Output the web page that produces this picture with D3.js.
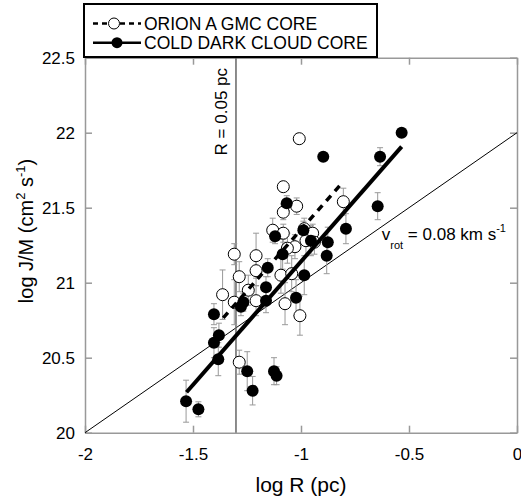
<!DOCTYPE html>
<html>
<head>
<meta charset="utf-8">
<script src="https://cdn.jsdelivr.net/npm/d3@7"></script>
<style>
  body { margin: 0; background: #fff; }
  svg text { font-family: "Liberation Sans", Arial, sans-serif; fill: #000; }
</style>
</head>
<body>
<div id="chart"></div>
<script>
// Orion A GMC cores: [log R, log J/M, error]
var orion = [
  [-1.008, 21.96, 0], [-1.082, 21.64, 0], [-1.082, 21.47, 0.05], [-1.020, 21.51, 0.055],
  [-0.804, 21.54, 0.09], [-1.131, 21.35, 0.08], [-1.082, 21.33, 0.06], [-0.985, 21.36, 0.07],
  [-0.946, 21.33, 0.06], [-0.977, 21.28, 0.10], [-0.938, 21.27, 0.08], [-1.028, 21.24, 0.08],
  [-1.063, 21.23, 0.10], [-1.309, 21.19, 0.07], [-1.208, 21.18, 0.15], [-1.208, 21.08, 0.10],
  [-1.286, 21.04, 0.10], [-1.244, 20.95, 0.10], [-1.363, 20.92, 0.165], [-1.309, 20.87, 0.15],
  [-1.208, 20.88, 0.10], [-1.093, 21.05, 0.12], [-1.043, 21.06, 0.12], [-1.074, 20.86, 0.14],
  [-1.005, 20.78, 0.13], [-1.286, 20.47, 0.08]
];
// cold dark cloud cores
var dark = [
  [-1.532, 20.21, 0.14], [-1.475, 20.156, 0.05], [-1.383, 20.49, 0.11], [-1.403, 20.60, 0.10],
  [-1.380, 20.65, 0.08], [-1.403, 20.79, 0.07], [-1.278, 20.84, 0.06], [-1.267, 20.87, 0.06],
  [-1.249, 20.41, 0.13], [-1.224, 20.28, 0.095], [-1.125, 20.41, 0.09], [-1.113, 20.38, 0.06],
  [-1.162, 20.88, 0.08], [-1.162, 20.97, 0.07], [-1.154, 21.10, 0.06], [-1.085, 21.19, 0.10],
  [-1.120, 21.31, 0.05], [-1.066, 21.53, 0.05], [-0.989, 21.35, 0.06], [-0.954, 21.28, 0.10],
  [-0.876, 21.27, 0.10], [-0.881, 21.18, 0.12], [-0.985, 21.05, 0.13], [-1.023, 20.90, 0.12],
  [-0.792, 21.36, 0.10], [-0.645, 21.51, 0.09], [-0.897, 21.84, 0], [-0.634, 21.84, 0.06],
  [-0.534, 22.00, 0]
];
var fitOrion = [[-1.36, 20.765], [-0.816, 21.655]];
var fitDark = [[-1.53, 20.27], [-0.534, 21.907]];
var vrotLine = [[-2, 20], [0, 22]];
var rLimit = Math.log10(0.05);
var xTicks = [-2, -1.5, -1, -0.5, 0];
var yTicks = [20, 20.5, 21, 21.5, 22, 22.5];

var margin = {top: 57.7, right: 4, bottom: 71.3, left: 85},
    width = 521 - margin.left - margin.right,
    height = 504 - margin.top - margin.bottom;

var svg = d3.select("#chart")
    .append("svg")
    .attr("width", 521)
    .attr("height", 504)
    .append("g")
    .attr("transform", "translate(" + margin.left + "," + margin.top + ")");

var x = d3.scaleLinear().domain([-2, 0]).range([0, width]);
var y = d3.scaleLinear().domain([20, 22.5]).range([height, 0]);
var line = d3.line().x(function (d) { return x(d[0]); }).y(function (d) { return y(d[1]); });

// axes, ticks inside
function styleAxis(g) {
  g.selectAll("path, line").attr("stroke", "#999").attr("stroke-width", 1.5);
  g.selectAll("text").style("font-size", "17px").attr("fill", "#000");
}
svg.append("g")
    .attr("transform", "translate(0," + height + ")")
    .call(d3.axisBottom(x).tickValues(xTicks).tickSizeInner(-7).tickSizeOuter(0)
      .tickPadding(15).tickFormat(function (d) { return String(d); }))
    .call(styleAxis);
svg.append("g")
    .call(d3.axisTop(x).tickValues(xTicks).tickSizeInner(-7).tickSizeOuter(0).tickFormat(""))
    .call(styleAxis);
svg.append("g")
    .call(d3.axisLeft(y).tickValues(yTicks).tickSizeInner(-7).tickSizeOuter(0)
      .tickPadding(10).tickFormat(function (d) { return String(d); }))
    .call(styleAxis);
svg.append("g")
    .attr("transform", "translate(" + width + ",0)")
    .call(d3.axisRight(y).tickValues(yTicks).tickSizeInner(-7).tickSizeOuter(0).tickFormat(""))
    .call(styleAxis);
svg.selectAll(".domain").attr("stroke", "#999");

// v_rot reference line
svg.append("path").datum(vrotLine).attr("d", line)
    .attr("fill", "none").attr("stroke", "#000").attr("stroke-width", 1);

// R = 0.05 pc line
svg.append("line")
    .attr("x1", x(rLimit)).attr("x2", x(rLimit))
    .attr("y1", 0).attr("y2", height)
    .attr("stroke", "#666").attr("stroke-width", 1.5);

svg.append("text")
    .attr("transform", "translate(" + (x(rLimit) - 9) + "," + y(22.14) + ") rotate(-90)")
    .attr("text-anchor", "middle")
    .style("font-size", "17px")
    .text("R = 0.05 pc");

// error bars
var all = orion.concat(dark).filter(function (d) { return d[2] > 0; });
var eb = svg.append("g").attr("stroke", "#999").attr("stroke-width", 1);
eb.selectAll(".ev").data(all).enter().append("line")
    .attr("x1", function (d) { return x(d[0]); }).attr("x2", function (d) { return x(d[0]); })
    .attr("y1", function (d) { return y(d[1] - d[2]); }).attr("y2", function (d) { return y(d[1] + d[2]); });
eb.selectAll(".ct").data(all).enter().append("line")
    .attr("x1", function (d) { return x(d[0]) - 3; }).attr("x2", function (d) { return x(d[0]) + 3; })
    .attr("y1", function (d) { return y(d[1] + d[2]); }).attr("y2", function (d) { return y(d[1] + d[2]); });
eb.selectAll(".cb").data(all).enter().append("line")
    .attr("x1", function (d) { return x(d[0]) - 3; }).attr("x2", function (d) { return x(d[0]) + 3; })
    .attr("y1", function (d) { return y(d[1] - d[2]); }).attr("y2", function (d) { return y(d[1] - d[2]); });

// points
svg.selectAll(".orion").data(orion).enter().append("circle")
    .attr("cx", function (d) { return x(d[0]); })
    .attr("cy", function (d) { return y(d[1]); })
    .attr("r", 6)
    .attr("fill", "#fff").attr("stroke", "#000").attr("stroke-width", 1);
svg.selectAll(".dark").data(dark).enter().append("circle")
    .attr("cx", function (d) { return x(d[0]); })
    .attr("cy", function (d) { return y(d[1]); })
    .attr("r", 6)
    .attr("fill", "#000");

// fits
svg.append("path").datum(fitOrion).attr("d", line)
    .attr("fill", "none").attr("stroke", "#000").attr("stroke-width", 3.5)
    .attr("stroke-dasharray", "7,6");
svg.append("path").datum(fitDark).attr("d", line)
    .attr("fill", "none").attr("stroke", "#000").attr("stroke-width", 4);

// v_rot label
var vt = svg.append("text")
    .attr("x", x(-0.626)).attr("y", y(21.285))
    .style("font-size", "17px");
vt.append("tspan").text("v");
vt.append("tspan").attr("dy", 9).style("font-size", "11px").text("rot");
vt.append("tspan").attr("dy", -9).text(" = 0.08 km s");
vt.append("tspan").attr("dy", -8).style("font-size", "11px").text("-1");

// axis titles
svg.append("text")
    .attr("x", width / 2).attr("y", height + 59)
    .attr("text-anchor", "middle")
    .style("font-size", "21px")
    .text("log R (pc)");

var yt = svg.append("text")
    .attr("transform", "translate(" + (33 - margin.left) + "," + (231 - margin.top) + ") rotate(-90)")
    .attr("text-anchor", "middle")
    .style("font-size", "20px");
yt.append("tspan").text("log J/M (cm");
yt.append("tspan").attr("dy", -8).style("font-size", "13px").text("2");
yt.append("tspan").attr("dy", 8).text(" s");
yt.append("tspan").attr("dy", -8).style("font-size", "13px").text("-1");
yt.append("tspan").attr("dy", 8).text(")");

// legend
var lg = svg.append("g").attr("transform", "translate(" + (-1) + "," + (-margin.top + 4) + ")");
lg.append("rect")
    .attr("width", 293).attr("height", 53)
    .attr("fill", "#fff").attr("stroke", "#000").attr("stroke-width", 2);
lg.append("line").attr("x1", 9).attr("x2", 57).attr("y1", 19.5).attr("y2", 19.5)
    .attr("stroke", "#000").attr("stroke-width", 2.5).attr("stroke-dasharray", "5,4");
lg.append("circle").attr("cx", 30).attr("cy", 19.5).attr("r", 5.5)
    .attr("fill", "#fff").attr("stroke", "#000").attr("stroke-width", 1);
lg.append("text").attr("x", 60).attr("y", 25.5).style("font-size", "17.5px").text("ORION A GMC CORE");
lg.append("line").attr("x1", 9).attr("x2", 57).attr("y1", 38.7).attr("y2", 38.7)
    .attr("stroke", "#000").attr("stroke-width", 2.5);
lg.append("circle").attr("cx", 33).attr("cy", 38.7).attr("r", 5.5).attr("fill", "#000");
lg.append("text").attr("x", 60).attr("y", 45).style("font-size", "17.5px").text("COLD DARK CLOUD CORE");
</script>
</body>
</html>
